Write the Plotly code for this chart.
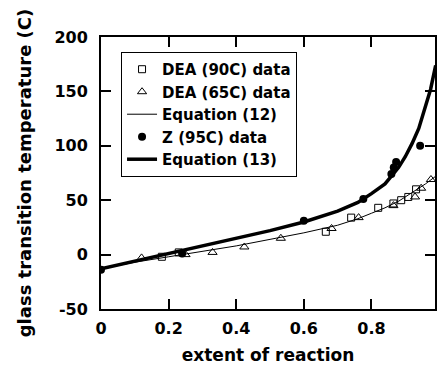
import plotly.graph_objects as go

# DEA (90C) data
dea90_x = [0.18, 0.23, 0.665, 0.74, 0.82, 0.865, 0.888, 0.909, 0.932]
dea90_y = [-2, 2, 21, 34, 43, 47, 50, 53, 60]
# DEA (65C) data
dea65_x = [0.12, 0.25, 0.33, 0.424, 0.532, 0.682, 0.762, 0.865, 0.929, 0.947, 0.976]
dea65_y = [-3, 0, 2, 7, 15, 24, 34, 45, 53, 61, 69]
# Equation (12)
eq12_x = [0, 0.1, 0.2, 0.3, 0.4, 0.5, 0.6, 0.7, 0.76, 0.8, 0.84, 0.88, 0.92, 0.96, 0.99]
eq12_y = [-13, -7, -2, 3, 8, 14, 20, 27, 33, 38, 43, 49, 57, 65, 72]
# Z (95C) data
z_x = [0, 0.24, 0.6, 0.776, 0.859, 0.866, 0.873, 0.944]
z_y = [-14, 1, 31, 51, 74, 80, 85, 100]
# Equation (13)
eq13_x = [0, 0.1, 0.2, 0.3, 0.4, 0.5, 0.6, 0.7, 0.76, 0.8, 0.84, 0.88, 0.9, 0.92, 0.94, 0.96, 0.975, 0.99]
eq13_y = [-13, -6, 1, 8, 15, 22, 30, 40, 48, 56, 65, 80, 90, 102, 116, 136, 152, 174]

x_ticks = [0, 0.2, 0.4, 0.6, 0.8]
x_tick_text = ["0", "0.2", "0.4", "0.6", "0.8"]
y_ticks = [-50, 0, 50, 100, 150, 200]
y_tick_text = ["-50", "0", "50", "100", "150", "200"]

F = "DejaVu Sans"

fig = go.Figure()
fig.add_trace(go.Scatter(x=dea90_x, y=dea90_y, mode="markers", name="DEA (90C) data",
                         marker=dict(symbol="square-open", size=7, color="black", line=dict(width=1, color="#555"))))
fig.add_trace(go.Scatter(x=dea65_x, y=dea65_y, mode="markers", name="DEA (65C) data",
                         marker=dict(symbol="triangle-up-open", size=8, color="black", line=dict(width=1, color="black"))))
fig.add_trace(go.Scatter(x=eq12_x, y=eq12_y, mode="lines", name="Equation (12)",
                         line=dict(color="black", width=1)))
fig.add_trace(go.Scatter(x=z_x, y=z_y, mode="markers", name="Z (95C) data",
                         marker=dict(symbol="circle", size=8, color="black")))
fig.add_trace(go.Scatter(x=eq13_x, y=eq13_y, mode="lines", name="Equation (13)",
                         line=dict(color="black", width=3.5)))

axis_common = dict(showgrid=False, zeroline=False, showline=True, linecolor="black", linewidth=2,
                   ticks="inside", ticklen=10, tickwidth=2, tickcolor="black", mirror="ticks",
                   tickfont=dict(family=F, size=16, color="black", weight="bold"))

fig.update_xaxes(range=[0, 0.988], tickvals=x_ticks, ticktext=x_tick_text,
                 title=dict(text="extent of reaction", font=dict(family=F, size=17, color="black", weight="bold"), standoff=12),
                 ticklabelstandoff=4, **axis_common)
fig.update_yaxes(range=[-50, 200], tickvals=y_ticks, ticktext=y_tick_text,
                 title=dict(text="glass transition temperature (C)", font=dict(family=F, size=18, color="black", weight="bold"), standoff=18),
                 ticklabelstandoff=8, **axis_common)

fig.update_layout(
    width=437, height=370,
    margin=dict(l=101, r=0, t=37, b=61),
    plot_bgcolor="white", paper_bgcolor="white",
    showlegend=True,
    legend=dict(x=0.06, y=0.945, xanchor="left", yanchor="top",
                bgcolor="white", bordercolor="black", borderwidth=1,
                font=dict(family=F, size=15, color="black", weight="bold"),
                tracegroupgap=0, itemwidth=30),
)

fig.write_html("out.html")
